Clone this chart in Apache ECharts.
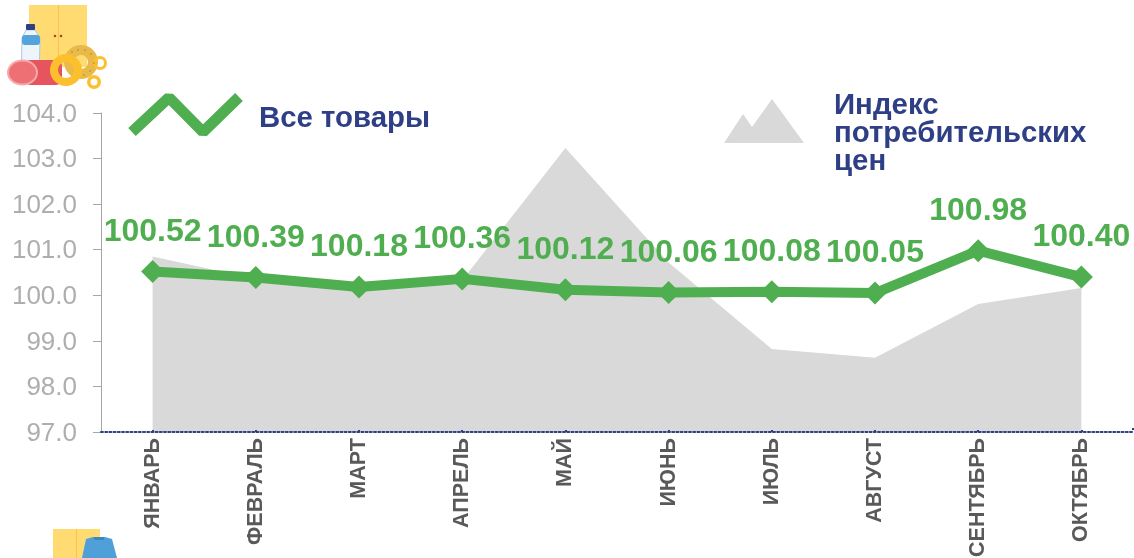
<!DOCTYPE html>
<html>
<head>
<meta charset="utf-8">
<style>html,body{margin:0;padding:0;background:#fff}#c{width:1134px;height:558px}</style>
<script src="https://cdn.jsdelivr.net/npm/echarts@6/dist/echarts.min.js"></script>
</head>
<body>
<div id="c"></div>
<script>
const categories = ['ЯНВАРЬ','ФЕВРАЛЬ','МАРТ','АПРЕЛЬ','МАЙ','ИЮНЬ','ИЮЛЬ','АВГУСТ','СЕНТЯБРЬ','ОКТЯБРЬ'];
const allGoods = [100.52,100.39,100.18,100.36,100.12,100.06,100.08,100.05,100.98,100.40];
const cpi = [100.85,100.36,100.15,100.33,103.23,100.72,98.82,98.63,99.81,100.16];
const yMin = 97, yMax = 104, yStep = 1;
const FONT = '"Liberation Sans", Arial, sans-serif';
const GREEN = '#4fae4f', NAVY = '#2f3f86', GREY = '#d9d9d9';

const legendText = (x, y, text) => ({
  type:'text', x, y, z:20,
  style:{text, font:'bold 29.4px '+FONT, fill:NAVY, textVerticalAlign:'middle'}
});
const ring = (cx, cy, r, r0, fill) => ({
  type:'ring', z:12, shape:{cx, cy, r, r0}, style:{fill}
});
const seed = (cx, cy) => ({type:'circle', z:13, shape:{cx, cy, r:0.8}, style:{fill:'#a9852f'}});
const graphics = [
  // food icon
  {type:'rect', z:10, shape:{x:29,y:5,width:58,height:62}, style:{fill:'#ffdb72'}},
  {type:'rect', z:11, shape:{x:58,y:5,width:1,height:55}, style:{fill:'#f9c24f'}},
  {type:'circle', z:11, shape:{cx:55,cy:36,r:1.3}, style:{fill:'#a5482b'}},
  {type:'circle', z:11, shape:{cx:61,cy:36,r:1.3}, style:{fill:'#a5482b'}},
  {type:'polygon', z:11, shape:{points:[[26,30],[35,30],[40,38],[39.5,62],[21.5,62],[22,38]]}, style:{fill:'#eef5fa',stroke:'#a9cbe4',lineWidth:1}},
  {type:'rect', z:11, shape:{x:22,y:35,width:18,height:10,r:3}, style:{fill:'#55a3dc'}},
  {type:'rect', z:11, shape:{x:26,y:24,width:9,height:6,r:1}, style:{fill:'#2f3f86'}},
  {type:'rect', z:11, shape:{x:24,y:60,width:38,height:25,r:6}, style:{fill:'#e5545f'}},
  {type:'ellipse', z:12, shape:{cx:22.5,cy:72.5,rx:14.5,ry:12}, style:{fill:'#ee6f74',stroke:'#f6a9ab',lineWidth:2}},
  ring(81,62,17,7,'#e9b94a'),
  seed(72,52),seed(78,50),seed(85,50),seed(91,54),seed(94,63),seed(90,71),seed(84,75),
  ring(66,70,16,8,'#fcc02e'),
  ring(100,63,7,4,'#fcc02e'),
  ring(94,82,7,3.5,'#fcc02e'),
  // clothes icon
  {type:'rect', z:10, shape:{x:53,y:529,width:47,height:29}, style:{fill:'#ffdb72'}},
  {type:'rect', z:11, shape:{x:76,y:529,width:1,height:29}, style:{fill:'#f9c24f'}},
  {type:'polygon', z:12, shape:{points:[[86,539],[93,537],[105,537],[112,539],[117,558],[82,558]]}, style:{fill:'#4f9fd8'}},
  {type:'rect', z:13, shape:{x:94,y:537,width:10,height:3}, style:{fill:'#3f86bd'}},
  // legend
  {type:'polyline', z:20, shape:{points:[[132,132],[169,97.5],[203,132],[239,97]]}, style:{stroke:GREEN,lineWidth:11,fill:'none',lineJoin:'bevel'}},
  legendText(259,119,'Все товары'),
  {type:'polygon', z:20, shape:{points:[[724,143],[743,114],[752,127],[772,99],[804,143]]}, style:{fill:GREY}},
  legendText(834,106,'Индекс'),
  legendText(834,134,'потребительских'),
  legendText(834,162,'цен'),
  // x-axis right-end tick
  {type:'rect', z:20, shape:{x:1132,y:428,width:2,height:2}, style:{fill:NAVY}}
];

const chart = echarts.init(document.getElementById('c'), null, {renderer:'canvas'});
chart.setOption({
  animation:false,
  backgroundColor:'#fff',
  textStyle:{fontFamily:FONT},
  grid:{left:101,right:1,top:113,bottom:126,containLabel:false,outerBoundsMode:'none'},
  xAxis:{
    type:'category', data:categories, boundaryGap:true, z:4,
    axisLine:{onZero:false,lineStyle:{color:NAVY,width:2,type:[2,2.2]}},
    axisTick:{show:true,inside:true,alignWithLabel:true,length:4,lineStyle:{color:NAVY,width:2,type:[2,2]}},
    axisLabel:{interval:0,rotate:90,margin:6,color:'#595959',fontSize:21.5,fontWeight:'bold',fontFamily:FONT},
    splitLine:{show:false}
  },
  yAxis:{
    type:'value', min:yMin, max:yMax, interval:yStep,
    axisLine:{show:true,lineStyle:{color:'#a6a6a6',width:1}},
    axisTick:{show:true,length:8,lineStyle:{color:'#a6a6a6',width:1}},
    axisLabel:{margin:24,color:'#b0adad',fontSize:26,fontFamily:FONT,verticalAlign:'top',lineHeight:3,formatter:v=>v.toFixed(1)},
    splitLine:{show:false}
  },
  series:[
    {name:'Индекс потребительских цен',type:'line',data:cpi,symbol:'none',z:1,
     lineStyle:{width:0},areaStyle:{color:GREY,opacity:1,origin:'start'},silent:true},
    {name:'Все товары',type:'line',data:allGoods,z:5,
     symbol:'diamond',symbolSize:23,
     lineStyle:{color:GREEN,width:10,cap:'butt'},itemStyle:{color:GREEN},
     label:{show:true,position:'top',distance:12,color:GREEN,fontSize:32,fontWeight:'bold',fontFamily:FONT,
            formatter:p=>p.value.toFixed(2)},
     labelLayout:{hideOverlap:false}}
  ],
  graphic:graphics
});
</script>
</body>
</html>
